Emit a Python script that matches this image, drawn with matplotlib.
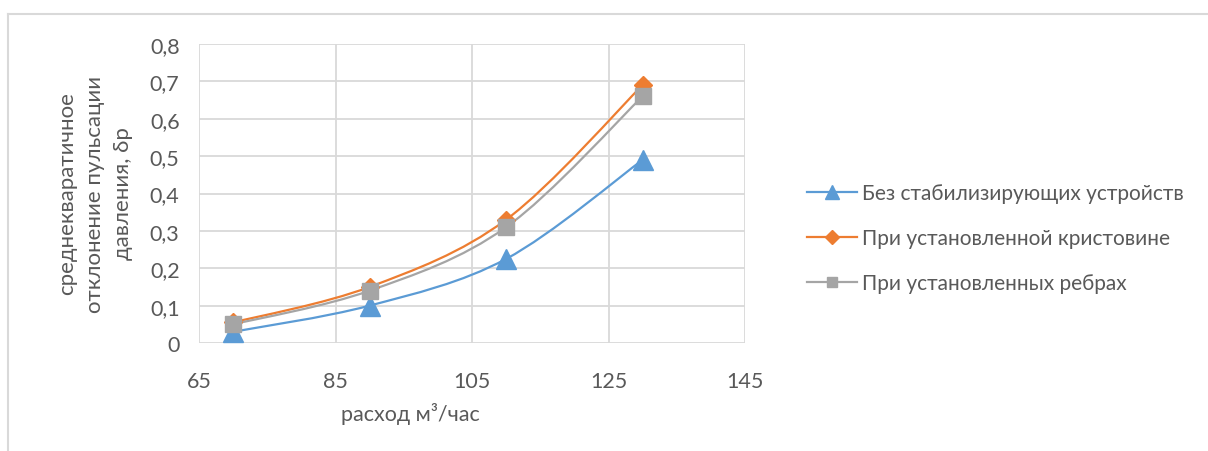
import matplotlib
matplotlib.use("Agg")
import matplotlib.pyplot as plt
from matplotlib.path import Path
from matplotlib.patches import PathPatch
from matplotlib.lines import Line2D
import numpy as np

plt.rcParams['font.family'] = ['Lato', 'DejaVu Sans']

# flow rate, m3/h
flow = [70, 90, 110, 130]
# pressure pulsation RMS deviation for each configuration
no_devices = [0.03, 0.10, 0.225, 0.49]
cross_piece = [0.055, 0.15, 0.33, 0.69]
ribs = [0.05, 0.14, 0.31, 0.66]

series_names = ["Без стабилизирующих устройств",
                "При установленной кристовине",
                "При установленных ребрах"]
colors = ["#5B9BD5", "#ED7D31", "#A5A5A5"]
markers = ["^", "D", "s"]
msizes = [14, 9.5, 11.5]
legend_msizes = [9.5, 7, 7.5]

x_ticks = [65, 85, 105, 125, 145]
y_ticks = [0, 0.1, 0.2, 0.3, 0.4, 0.5, 0.6, 0.7, 0.8]
text_color = "#595959"


def smooth_path(xs, ys):
    """Cubic bezier through the points, Catmull-Rom style control points."""
    p = np.column_stack([xs, ys]).astype(float)
    ext = np.vstack([p[0], p, p[-1]])
    verts = [p[0]]
    codes = [Path.MOVETO]
    for i in range(len(p) - 1):
        c1 = ext[i + 1] + (ext[i + 2] - ext[i]) / 6.0
        c2 = ext[i + 2] - (ext[i + 3] - ext[i + 1]) / 6.0
        verts += [c1, c2, ext[i + 2]]
        codes += [Path.CURVE4] * 3
    return Path(verts, codes)


fig = plt.figure(figsize=(12.08, 4.52), dpi=100)
ax = fig.add_axes([199 / 1208, 1 - 344 / 452, 546 / 1208, 299 / 452])

for ys, c, m, ms, name in zip([no_devices, cross_piece, ribs], colors, markers, msizes, series_names):
    ax.add_patch(PathPatch(smooth_path(flow, ys), facecolor="none", edgecolor=c, lw=1.6, zorder=3))
    ax.plot(flow, ys, linestyle="none", marker=m, markersize=ms, color=c, zorder=4, label=name)

ax.set_xlim(65, 145)
ax.set_ylim(0, 0.8)
ax.set_xticks(x_ticks)
ax.set_yticks(y_ticks)
ax.set_yticklabels(["0"] + [f"{v:.1f}".replace(".", ",") for v in y_ticks[1:]])
ax.tick_params(length=0, labelsize=15.5, colors=text_color)
ax.tick_params(axis="y", pad=14)
ax.tick_params(axis="x", pad=20)
ax.grid(True, color="#D9D9D9", lw=1.3)
ax.set_axisbelow(True)
for s in ax.spines.values():
    s.set_visible(False)

fig.text(410 / 1208, 1 - 414 / 452, "расход м³/час", ha="center", va="center",
         fontsize=15.5, color=text_color)
fig.text(95 / 1208, 1 - 194 / 452, "среднекваратичное\nотклонение пульсации\nдавления, δр",
         ha="center", va="center", rotation=90, fontsize=16, color=text_color,
         linespacing=1.5)

handles = [Line2D([], [], color=c, lw=1.6, marker=m, markersize=ms)
           for c, m, ms in zip(colors, markers, legend_msizes)]
leg = fig.legend(handles, series_names, loc="center left",
                 bbox_to_anchor=(788 / 1208, 1 - 239 / 452), frameon=False,
                 fontsize=15, handlelength=2.4, handletextpad=0.25, labelspacing=1.2,
                 labelcolor=text_color)

# outer chart frame
fig.add_artist(Line2D([8 / 1208, 1], [1 - 15 / 452] * 2, color="#D9D9D9", lw=1.5))
fig.add_artist(Line2D([8 / 1208] * 2, [0, 1 - 15 / 452], color="#D9D9D9", lw=1.5))

fig.savefig("out.png", dpi=100, facecolor="white")
